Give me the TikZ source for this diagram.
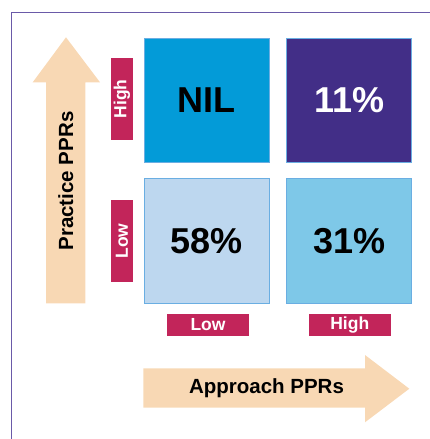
\documentclass[tikz,border=0pt]{standalone}
\usepackage{fontspec}
\setmainfont{Liberation Sans}
\usetikzlibrary{shapes.arrows}
\definecolor{frameline}{HTML}{6A5AA8}
\definecolor{cellA}{HTML}{039BD8}
\definecolor{cellB}{HTML}{422E87}
\definecolor{cellC}{HTML}{BDD7EF}
\definecolor{cellD}{HTML}{7EC8E8}
\definecolor{cellEdge}{HTML}{6AAEE2}
\definecolor{tag}{HTML}{C2255A}
\definecolor{peach}{HTML}{F8D8B4}
\tikzset{
  cell/.style={draw=cellEdge, line width=0.8pt, minimum width=125pt, minimum height=124.5pt,
    inner sep=0pt, font=\fontsize{36}{36}\selectfont\bfseries, anchor=north west},
  tagbox/.style={fill=tag, text=white, inner sep=0pt, font=\fontsize{17.5}{17.5}\selectfont\bfseries},
  axisarrow/.style={fill=peach, draw=none},
}
\begin{document}
\begin{tikzpicture}[x=1pt,y=-1pt]
  \useasboundingbox (0,0) rectangle (430,439);
  % outer frame: only the top and left edges are visible
  \draw[frameline, line width=1pt] (11,439) -- (11,12) -- (430,12);

  % the four cells
  \node[cell, fill=cellA, text=black] (nil) at (143.7,37.7) {NIL};
  \node[cell, fill=cellB, text=white] (hh) at (286.3,37.7) {11\%};
  \node[cell, fill=cellC, text=black] (ll) at (143.7,178.3) {58\%};
  \node[cell, fill=cellD, text=black] (lh) at (286.3,178.3) {31\%};

  % vertical axis arrow
  \fill[axisarrow] (46,303.3) -- (46,82.3) -- (32.7,82.3) -- (66,37.3) -- (100,82.3)
    -- (85.3,82.3) -- (85.3,303.3) -- cycle;
  \node[rotate=90, font=\fontsize{20.5}{20.5}\selectfont\bfseries] (yax) at (65.7,181) {Practice PPRs};

  % horizontal axis arrow
  \fill[axisarrow] (143.3,368.3) -- (365,368.3) -- (365,355) -- (409.3,388.7) -- (365,422.3)
    -- (365,407.7) -- (143.3,407.7) -- cycle;
  \node[font=\fontsize{20.5}{20.5}\selectfont\bfseries] (xax) at (266.5,388.5) {Approach PPRs};

  % level tags
  \node[tagbox, minimum width=82pt, minimum height=22pt, rotate=90] (yhigh) at (122,98.8) {High};
  \node[tagbox, minimum width=82pt, minimum height=22pt, rotate=90] (ylow) at (122,241) {Low};
  \node[tagbox, minimum width=82pt, minimum height=21.7pt] (xlow) at (208,324.8) {Low};
  \node[tagbox, minimum width=82pt, minimum height=21.7pt] (xhigh) at (349.8,324.8) {High};
\end{tikzpicture}
\end{document}
